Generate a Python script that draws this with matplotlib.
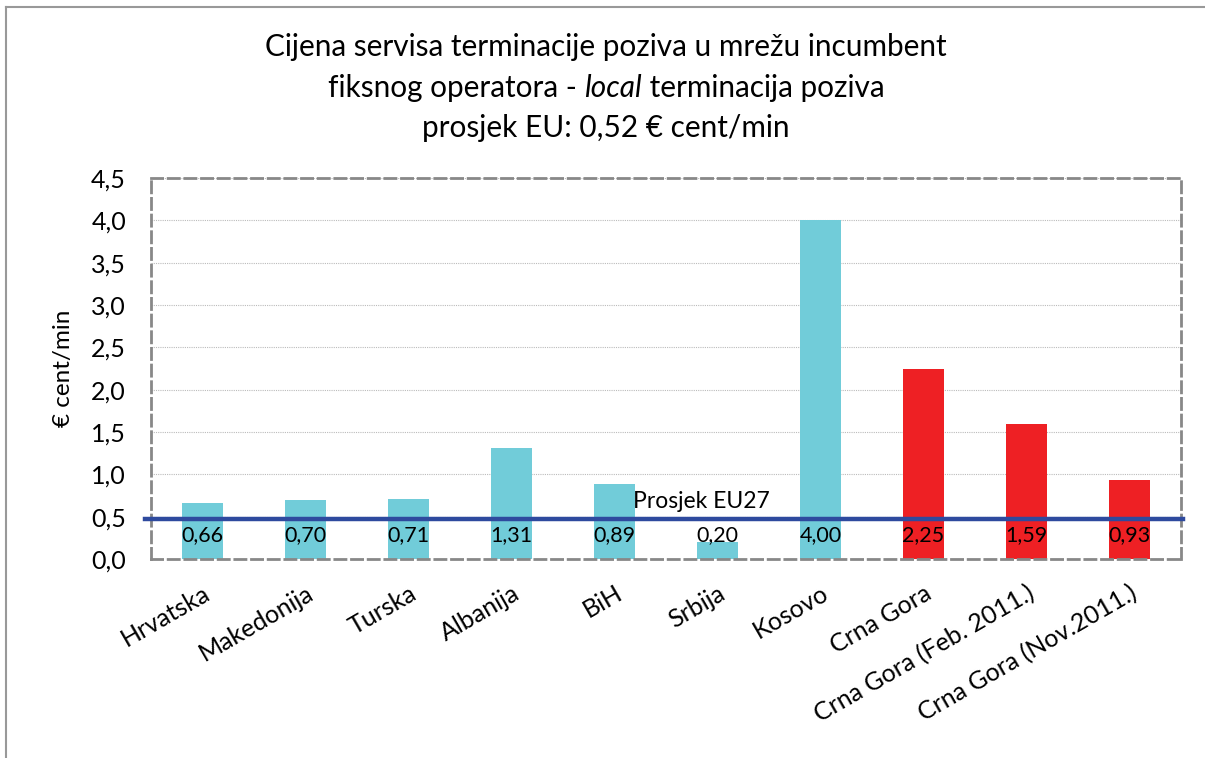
import numpy as np
import matplotlib.pyplot as plt
from matplotlib.lines import Line2D

plt.rcParams['font.family'] = ['Lato', 'DejaVu Sans']

# data
zemlje = ['Hrvatska', 'Makedonija', 'Turska', 'Albanija', 'BiH', 'Srbija', 'Kosovo',
          'Crna Gora', 'Crna Gora (Feb. 2011.)', 'Crna Gora (Nov.2011.)']
cijene = [0.66, 0.70, 0.71, 1.31, 0.89, 0.20, 4.00, 2.25, 1.59, 0.93]
boje = ['#71CCD9'] * 7 + ['#EE2024'] * 3
prosjek_eu27 = 0.47
y_ticks = [0.0, 0.5, 1.0, 1.5, 2.0, 2.5, 3.0, 3.5, 4.0, 4.5]

fig = plt.figure(figsize=(12.05, 7.58), dpi=100)
ax = fig.add_axes([151 / 1205, 1 - 559 / 758, 1030 / 1205, 381 / 758])

x = np.arange(len(zemlje))
ax.bar(x, cijene, width=0.4, color=boje, zorder=2)

# EU27 average line
ax.plot([-0.56, len(zemlje) - 0.48], [prosjek_eu27, prosjek_eu27], color='#2E4A9E',
        lw=3.2, clip_on=False, zorder=4)
ax.text(4.18, prosjek_eu27 + 0.09, 'Prosjek EU27', fontsize=16.5, va='bottom', ha='left', zorder=5)

# value labels just below the line
for xi, v in zip(x, cijene):
    ax.text(xi, prosjek_eu27 - 0.19, f'{v:.2f}'.replace('.', ','), ha='center', va='center',
            fontsize=15.5, zorder=5)

ax.set_xlim(-0.5, len(zemlje) - 0.5)
ax.set_ylim(0, 4.5)
ax.set_yticks(y_ticks)
ax.set_yticklabels([f'{t:.1f}'.replace('.', ',') for t in y_ticks], fontsize=18)
ax.set_xticks(x)
ax.set_xticklabels(zemlje, rotation=30, ha='right', rotation_mode='anchor', fontsize=18)
ax.tick_params(length=0)
ax.tick_params(axis='y', pad=18)
ax.tick_params(axis='x', pad=16)
ax.set_ylabel('€ cent/min', fontsize=17.5, labelpad=12)
ax.yaxis.grid(True, color='#BBBBBB', lw=0.8, ls=(0, (1, 1)), zorder=0)
for s in ax.spines.values():
    s.set_color('#888888')
    s.set_linewidth(2)
    s.set_linestyle((0, (4, 2)))

# title, middle line has italic word
fs = 21.4
fig.text(0.503, 1 - 47 / 758, 'Cijena servisa terminacije poziva u mrežu incumbent',
         ha='center', va='center', fontsize=fs)
fig.text(0.503, 1 - 128 / 758, 'prosjek EU: 0,52 € cent/min', ha='center', va='center', fontsize=fs)
dijelovi = [('fiksnog operatora - ', 'normal'), ('local', 'italic'), (' terminacija poziva', 'normal')]
fig.canvas.draw()
r = fig.canvas.get_renderer()
tekstovi = [fig.text(0, 1 - 88 / 758, t, fontsize=fs, style=st, va='center') for t, st in dijelovi]
sirine = [tt.get_window_extent(r).width / fig.bbox.width for tt in tekstovi]
x0 = 0.503 - sum(sirine) / 2
for tt, w in zip(tekstovi, sirine):
    tt.set_x(x0)
    x0 += w

# chart frame
fig.add_artist(Line2D([6 / 1205, 6 / 1205], [0, 1 - 7 / 758], color='#999999', lw=1.5))
fig.add_artist(Line2D([6 / 1205, 1], [1 - 7 / 758, 1 - 7 / 758], color='#999999', lw=1.5))

fig.savefig('out.png', dpi=100)
